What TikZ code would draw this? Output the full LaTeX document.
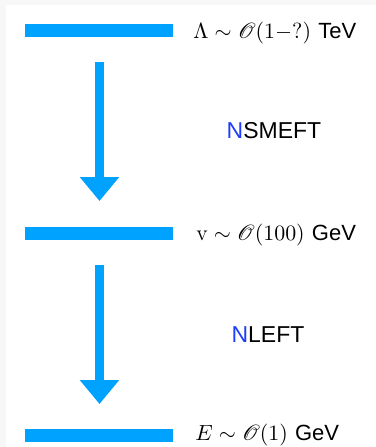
\documentclass[tikz,border=0pt]{standalone}
\usepackage{fontspec}
\usepackage{mathrsfs}
\usetikzlibrary{arrows.meta}
\newfontfamily\hv{Liberation Sans}
\definecolor{scaleblue}{RGB}{0,162,255}
\definecolor{nblue}{RGB}{30,60,255}
\definecolor{frame}{RGB}{247,247,247}
\begin{document}
\begin{tikzpicture}[x=0.5pt,y=-0.5pt,
  bar/.style={rectangle,fill=scaleblue,draw=none,inner sep=0pt,
    minimum width=74pt,minimum height=6.5pt},
  flow/.style={draw=scaleblue,line width=4.75pt,
    -{Triangle[width=19pt,length=12pt]}},
  scalelabel/.style={anchor=base west,inner sep=0pt,font=\fontsize{11}{13}\selectfont},
  theory/.style={anchor=base,inner sep=0pt,font=\hv\fontsize{11.5}{14}\selectfont}]
  % page and inner white panel
  \fill[frame] (0,0) rectangle (376,447);
  \fill[white] (6,5) rectangle (376,447);
  \useasboundingbox (0,0) rectangle (376,447);

  % energy levels
  \node[bar] (high) at (99,30.5) {};
  \node[bar] (mid)  at (99,233)  {};
  \node[bar] (low)  at (99,435.5) {};

  % scale labels
  \node[scalelabel] (lhigh) at (193,38)  {$\Lambda\sim\mathscr{O}(1{-}?)$ {\hv TeV}};
  \node[scalelabel] (lmid)  at (196,240) {$\mathrm{v}\sim\mathscr{O}(100)$ {\hv GeV}};
  \node[scalelabel] (llow)  at (195,440) {$E\sim\mathscr{O}(1)$ {\hv GeV}};

  % running between scales
  \coordinate (a1s) at (99.5,62);
  \coordinate (a1e) at (99.5,201);
  \coordinate (a2s) at (99.5,265);
  \coordinate (a2e) at (99.5,404);
  \draw[flow] (a1s) -- (a1e);
  \draw[flow] (a2s) -- (a2e);

  % effective theories
  \node[theory] (nsmeft) at (274,138) {\textcolor{nblue}{N}SMEFT};
  \node[theory] (nleft)  at (268,342) {\textcolor{nblue}{N}LEFT};
\end{tikzpicture}
\end{document}
